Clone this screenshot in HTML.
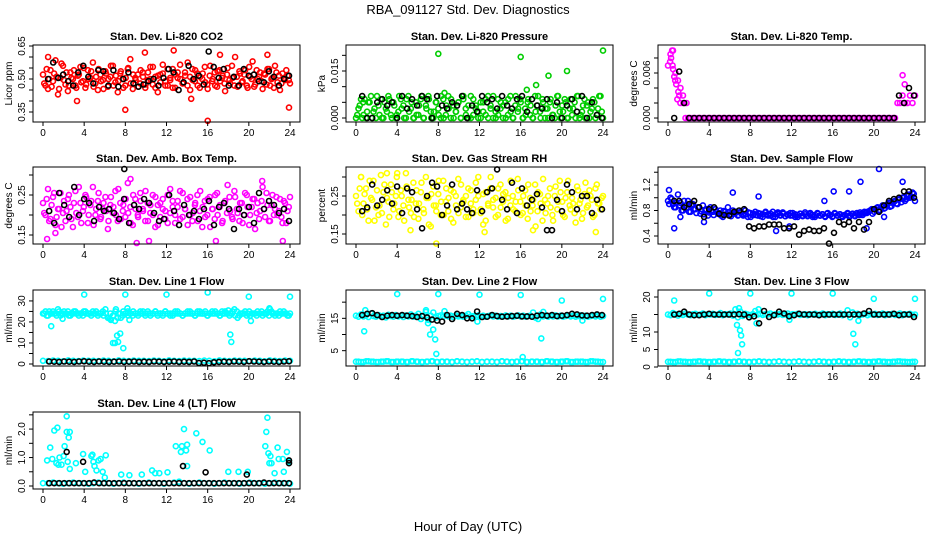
<!DOCTYPE html>
<html><head><meta charset="utf-8">
<style>
html,body{margin:0;padding:0;background:#fff;}
svg{display:block;font-family:"Liberation Sans",sans-serif;}
</style></head>
<body>
<svg id="chart" width="936" height="540" viewBox="0 0 936 540" xmlns="http://www.w3.org/2000/svg">
<rect width="936" height="540" fill="#fff"/>
<text x="468" y="14" text-anchor="middle" font-size="13">RBA_091127  Std. Dev. Diagnostics</text>
<text x="468" y="531" text-anchor="middle" font-size="13">Hour of Day (UTC)</text>
</svg>
<script>
// ---------- data ----------
const hourTicks = [0,4,8,12,16,20,24];

const co2Main = [520,470,455,540,490,585,430,505,560,475,445,530,500,470,515,555,490,460,540,505,575,480,450,520,495,535,465,510,560,485,440,525,500,470,545,590,455,505,520,480,530,460,495,555,475,510,440,520,565,490,470,505,545,460,530,500,480,515,575,450,495,540,470,510,525,485,455,560,500,470,535,490,515,445,550,480,505,600,465,525,490,540,460,510,580,475,500,530,455,520,545,470,505,560,485,450,525,495,515,480];
const co2Main2 = [480,545,500,465,525,510,455,570,495,530,470,505,540,460,520,485,550,475,500,535,465,510,545,490,455,525,500,560,470,515,490,535,460,505,550,480,520,495,465,540,510,475,530,500,555,460,515,485,525,470,545,495,460,520,505,565,480,530,470,510,545,490,525,460,500,555,475,515,490,530,465,540,505,480,520,495,560,470,510,535,485,520,470,555,500,465,540,510,490,525,475,545,500,460,530,515,480,505,540,495];
const co2Black = [500,575,505,520,490,470,530,560,510,480,540,535,470,540,465,500,530,480,465,475,490,500,470,505,545,530,450,485,560,500,515,475,625,555,505,545,470,510,470,545,515,520,490,485,535,510,470,500,515];
const co2OutH = [9.9,12.7,17.2,8.0,16.0,23.9,3.3,14.4,0.5,21.8];
const co2OutV = [620,630,610,360,310,370,400,410,600,610];

const presMain = [0,3,6,1,0,5,7,2,0,4,6,0,3,7,1,5,0,2,6,4,0,7,3,0,5,1,6,0,4,7,2,0,5,3,0,6,1,7,0,4,2,5,0,6,3,0,7,1,4,0,5,2,6,0,3,7,0,1,5,4,0,6,2,0,7,3,5,0,1,6,4,0,2,7,0,5,3,0,6,1,4,7,0,2,5,0,6,3,0,7,1,4,0,5,2,6,0,3,7,0];
const presMain2 = [1,4,0,6,2,5,0,3,7,1,0,5,2,6,0,4,1,7,3,0,6,2,5,0,1,4,7,0,3,6,0,2,5,1,7,0,4,3,6,0,2,5,0,7,1,4,0,6,3,2,0,5,1,7,4,0,2,6,3,0,5,1,7,0,4,2,6,0,3,5,1,0,7,4,2,6,0,3,5,1,0,7,2,4,6,0,3,1,5,7,0,2,6,4,0,3,5,1,7,2];
const presBlack = [7,0,0,5,6,4,5,0,7,3,6,4,7,6,0,7,4,3,5,4,7,0,4,2,7,5,6,3,7,4,3,6,7,2,6,4,3,6,0,5,0,4,6,2,7,0,5,1,0];
const presOutH = [8.0,16.0,24.0,18.7,20.5,17.5,16.6,0.7,8.6];
const presOutV = [20.5,19.5,21.5,13.5,15.0,10.5,9.0,5.0,8.0];

const tempMain = [70,85,90,60,50,40,30,0,0,0,0,0,0,0,0,0,0,0,0,0,0,0,0,0,0,0,0,0,0,0,0,0,0,0,0,0,0,0,0,0,0,0,0,0,0,0,0,0,0,0,0,0,0,0,0,0,0,0,0,0,0,0,0,0,0,0,0,0,0,0,0,0,0,0,0,0,0,0,0,0,0,0,0,0,0,0,0,0,0,0,0,0,20,20,30,20,20,30,20,30];
const tempBlack = [0,62,20,0,0,0,0,0,0,0,0,0,0,0,0,0,0,0,0,0,0,0,0,0,0,0,0,0,0,0,0,0,0,0,0,0,0,0,0,0,0,0,0,0,0,30,20,40,30];
const tempOutH = [0.2,0.4,0.5,0.6,0.8,1.0,1.2,1.5,1.8,0.9,0.3,0.45,22.8,23.0,0.7,1.1];
const tempOutV = [75,90,65,55,45,35,20,20,20,25,80,70,57,45,50,30];

const ambMain = [230,200,265,190,245,175,215,255,205,185,240,220,170,260,195,230,210,250,180,225,270,200,235,190,215,245,165,225,205,260,185,230,210,195,280,220,175,240,200,255,215,185,230,205,250,170,225,195,240,210,180,265,220,200,235,190,255,215,175,245,205,230,185,260,220,195,240,170,215,250,200,225,185,235,275,210,190,245,205,230,180,255,220,200,240,165,230,210,270,195,225,185,250,215,200,240,180,230,210,245];
const ambMain2 = [205,240,185,225,255,195,215,170,235,210,250,190,230,205,270,180,220,245,200,235,175,215,255,195,230,210,185,245,220,200,265,190,225,240,205,180,250,215,195,235,210,260,185,225,200,245,175,230,215,190,250,205,235,180,220,260,195,215,240,200,185,225,250,210,170,235,200,245,215,190,255,220,180,230,205,245,195,260,215,185,230,200,250,175,220,240,205,190,235,215,255,185,225,200,245,210,195,235,180,220];
const ambBlack = [210,180,255,225,195,270,200,240,230,185,220,210,215,205,190,240,180,225,215,240,230,205,185,190,250,210,175,225,200,210,190,215,235,175,220,230,215,165,215,200,220,180,255,215,235,225,205,215,185];
const ambOutH = [0.4,9.1,10.3,23.3,8.5,21.3,16.8,1.2,7.9];
const ambOutV = [140,130,135,135,290,285,135,155,315];

const rhMain = [250,210,300,230,270,185,245,290,220,200,305,260,175,235,280,215,250,195,265,225,310,240,205,285,230,190,260,215,300,245,170,275,225,255,200,290,235,210,265,180,250,295,220,240,195,270,230,205,285,250,215,175,260,225,300,240,195,270,220,255,185,245,290,215,235,265,200,250,225,280,210,240,170,260,230,295,205,250,220,185,275,235,260,200,245,290,215,230,180,265,240,205,285,225,250,195,270,230,215,250];
const rhMain2 = [230,270,200,255,215,290,240,185,265,225,205,280,245,195,260,230,300,210,250,185,275,220,240,195,265,230,285,205,245,175,255,225,210,290,235,200,270,245,190,260,225,205,280,235,250,195,265,215,240,300,205,255,185,230,270,220,245,200,280,235,260,190,225,250,210,295,235,205,265,190,245,225,280,210,255,185,240,230,270,200,250,215,290,235,195,260,225,245,205,275,230,190,255,220,265,240,200,280,230,245];
const rhBlack = [210,220,280,225,240,265,230,275,205,270,260,215,165,250,285,275,200,225,280,215,230,215,205,265,210,260,270,320,240,215,285,205,270,225,240,255,220,160,160,240,210,280,260,215,250,250,205,240,215];
const rhOutH = [7.8,12.5,17.2,5.3,0.5,23.3,3.0,4.0];
const rhOutV = [125,155,160,160,300,155,310,310];

const flowMain = [95,100,90,85,105,92,80,88,95,78,90,82,85,75,88,80,72,85,78,82,75,80,70,78,85,74,80,76,72,78,74,80,70,76,73,78,72,75,70,77,74,72,78,70,75,73,77,71,74,72,76,70,73,75,71,74,72,76,70,73,75,72,74,70,76,73,71,75,72,74,70,73,76,72,75,71,74,77,73,76,78,80,75,82,85,80,88,84,90,86,92,95,90,98,100,95,105,100,108,95];
const flowMain2 = [90,98,85,92,88,80,95,84,78,88,82,76,85,79,74,82,77,80,73,78,76,72,79,74,77,71,75,78,73,76,72,74,77,70,75,73,76,71,74,78,72,75,70,74,77,72,75,71,73,76,72,74,70,75,72,77,71,74,73,70,76,72,74,71,75,73,70,76,72,74,71,73,75,70,74,72,76,73,75,78,76,79,82,78,84,81,86,83,88,92,87,94,91,97,93,100,98,104,102,106];
const flowBlack = [95,95,85,90,95,85,70,82,85,75,73,72,78,80,82,55,52,55,55,58,58,58,52,52,55,42,48,50,48,48,52,28,45,62,58,62,52,62,50,62,82,78,88,95,98,100,110,110,100];
const flowOutH = [0.1,6.3,8.8,10.5,11.8,16.1,17.6,18.7,20.5,22.8,0.6,19.3,15.2,3.5,1.2,21.0];
const flowOutV = [112,108,102,48,55,110,110,125,145,125,52,52,95,62,70,70];

const l1Main = [24,25,23,24,25,24,26,23,24,24,25,23,24,25,24,24,23,25,24,24,25,24,23,24,25,26,22,24,23,25,22,24,23,24,25,24,23,24,24,25,24,23,25,24,24,25,23,24,24,25,24,23,24,25,24,24,23,24,25,24,24,23,25,24,24,25,23,24,24,25,24,23,24,25,24,24,25,23,22,24,24,25,24,23,24,24,25,24,23,24,25,26,24,23,24,25,24,24,23,24];
const l1Main2 = [24,23,25,24,24,23,25,24,25,24,23,24,25,24,23,24,25,24,24,23,24,25,24,24,23,24,22,21,23,26,24,22,25,24,23,24,25,24,23,24,25,24,24,23,24,25,24,24,23,25,24,24,23,24,25,24,23,24,24,25,24,23,24,25,24,24,23,24,25,24,24,23,25,24,24,23,24,26,25,23,24,24,23,25,24,24,23,24,25,24,24,23,25,24,24,23,24,25,24,23];
const l1Low = [1.5,1.4,1.6,1.5,1.3,1.7,1.5,1.4,1.6,1.5,1.5,1.4,1.6,1.5,1.3,1.7,1.5,1.4,1.6,1.5,1.5,1.4,1.6,1.5,1.3,1.7,1.5,1.4,1.6,1.5,1.5,1.4,1.6,1.5,1.3,1.7,1.5,1.4,1.6,1.5,1.5,1.4,1.6,1.5,1.3,1.7,1.5,1.4,1.6,1.5];
const l1Black = [1.2,1.1,1.0,1.2,1.1,1.0,1.2,1.3,1.1,1.0,1.2,1.1,1.0,1.1,1.2,1.0,1.1,1.2,1.0,1.1,1.0,1.2,1.1,1.0,1.1,1.2,1.0,1.1,1.0,1.2,0.5,0.6,0.4,0.8,1.0,1.1,1.0,1.2,1.1,1.0,1.3,1.2,1.1,1.0,1.2,1.1,1.0,1.2,1.3];
const l1OutH = [4,8,12,16,20,24,0.8,7.2,7.5,7.0,7.8,6.8,7.3,18.2,18.3,20.2,1.9,22,8.2,6.5,7.0,18,8.4];
const l1OutV = [33,33,33,34,32,32,18,13.5,14.5,10,7.5,10,10.5,14,10.5,20.5,21.5,26.5,26.5,21.5,20.5,25.5,21];

const l2Main = [15.8,15.5,16.2,15.6,15.9,15.4,16.5,15.7,15.5,16.0,15.6,15.8,15.3,16.1,15.7,15.5,16.0,15.6,15.8,15.4,15.9,15.6,16.2,15.5,15.8,16.4,14.8,15.6,17.0,14.5,15.8,16.8,15.2,15.7,15.9,15.5,16.0,15.6,15.8,15.4,15.9,15.6,15.7,15.5,15.8,16.3,15.6,15.7,15.5,15.9,15.6,15.8,15.5,15.7,15.9,15.6,15.8,15.5,15.7,15.6,15.9,15.6,15.8,15.5,15.7,15.9,15.6,15.8,15.5,15.7,15.8,16.8,15.2,14.8,16.2,15.6,15.9,15.5,15.8,15.6,15.9,15.6,15.8,15.5,15.7,15.9,15.6,15.8,15.5,15.7,15.9,15.6,15.8,15.5,15.7,15.9,15.6,15.8,15.5,15.7];
const l2Low = [1.6,1.5,1.7,1.6,1.5,1.6,1.7,1.5,1.6,1.6,1.5,1.7,1.6,1.5,1.6,1.7,1.5,1.6,1.6,1.5,1.7,1.6,1.5,1.6,1.7,1.5,1.6,1.6,1.5,1.7,1.6,1.5,1.6,1.7,1.5,1.6,1.6,1.5,1.7,1.6,1.5,1.6,1.7,1.5,1.6,1.6,1.5,1.7,1.6,1.5];
const l2Black = [16.0,16.4,16.6,16.0,15.4,15.8,16.0,15.8,16.0,15.8,15.7,15.4,15.7,15.3,14.6,14.3,14.0,16.0,14.8,16.4,16.0,15.0,15.0,17.1,15.4,15.5,16.0,15.7,15.5,15.6,15.7,15.8,15.6,15.6,15.5,15.8,16.0,15.8,16.0,15.7,15.8,16.0,16.4,16.2,15.9,15.8,16.0,16.2,16.0];
const l2OutH = [4,8,12,16,20,24,0.8,0.9,7.2,7.5,7.7,7.8,16.2,18,6.8,18.2,11.8,22,7,8.6];
const l2OutV = [22.5,22.5,22.3,22.2,20.5,21,11.0,17.5,10.0,11.5,8.5,4,3,8.8,17.5,17,14,14.3,13.5,17.2];

const l3Main = [15.0,14.8,15.4,15.1,14.7,15.2,14.9,15.3,15.0,14.8,15.1,15.2,14.9,15.0,15.3,14.8,15.1,15.0,15.2,14.9,15.0,15.4,14.8,15.1,15.0,15.3,14.7,16.5,14.2,15.8,14.6,15.2,15.0,14.8,15.1,16.0,15.0,15.2,14.9,15.1,15.0,15.3,14.8,15.1,15.0,15.2,14.9,15.0,15.3,14.8,15.1,15.0,15.2,14.9,15.0,15.1,14.8,15.1,15.0,15.2,14.9,15.0,15.3,14.8,15.1,15.0,15.2,14.9,15.0,15.3,14.8,15.1,16.2,14.2,15.6,15.0,15.2,14.9,15.0,15.3,14.8,15.1,15.0,15.2,14.9,15.0,15.3,14.8,15.1,15.0,15.2,14.9,15.0,15.3,14.8,15.1,15.0,15.2,14.9,15.0];
const l3Low = [1.5,1.4,1.6,1.5,1.4,1.5,1.6,1.5,1.4,1.5,1.6,1.5,1.4,1.5,1.6,1.5,1.4,1.5,1.6,1.5,1.4,1.5,1.6,1.5,1.4,1.5,1.6,1.5,1.4,1.5,1.6,1.5,1.4,1.5,1.6,1.5,1.4,1.5,1.6,1.5,1.4,1.5,1.6,1.5,1.4,1.5,1.6,1.5,1.4,1.5];
const l3Black = [15.0,15.2,15.8,15.0,14.8,14.8,15.0,15.2,15.0,15.0,15.0,15.0,15.0,15.1,15.0,14.2,14.5,12.5,16.0,14.3,14.8,15.8,15.3,14.5,14.8,15.2,15.0,15.0,15.0,14.8,15.0,15.0,15.0,15.0,15.0,15.0,15.0,15.0,15.3,16.0,15.0,15.0,15.0,15.0,15.2,14.8,15.0,15.0,14.3];
const l3OutH = [4,8,12,16,20,24,0.6,6.8,7.2,6.7,7.0,7.1,18.2,18.0,18.5,8.8,8.6,11.8,6.9];
const l3OutV = [21,21,21,21,19.5,19.5,19,4,6.5,12,10.5,9,6.5,9.5,13.2,16.5,12.5,13.5,16.8];

const l4Base = [0.1,0.1,0.12,0.1,0.08,0.1,0.12,0.1,0.1,0.08,0.1,0.12,0.1,0.1,0.08,0.1,0.12,0.1,0.1,0.08,0.1,0.12,0.1,0.1,0.08,0.1,0.12,0.15,0.1,0.08,0.1,0.12,0.1,0.1,0.08,0.1,0.12,0.1,0.1,0.08,0.1,0.12,0.1,0.1,0.08,0.1,0.12,0.1,0.1,0.08];
const l4Black = [0.1,0.1,0.1,0.1,0.1,0.1,0.1,0.1,0.1,0.12,0.1,0.1,0.1,0.1,0.1,0.1,0.1,0.1,0.1,0.1,0.1,0.1,0.1,0.1,0.1,0.1,0.1,0.1,0.1,0.1,0.1,0.1,0.1,0.1,0.1,0.1,0.1,0.1,0.1,0.1,0.1,0.1,0.1,0.12,0.1,0.1,0.1,0.1,0.1];
const l4OutH = [0.4,0.7,0.9,1.1,1.4,1.3,1.5,1.6,1.8,2.0,2.1,2.3,2.3,2.5,2.6,2.4,2.6,3.2,3.9,4.1,4.7,4.8,4.9,5.0,5.2,5.4,5.6,5.8,6.0,6.1,7.6,8.4,9.6,10.6,10.9,11.3,12.1,12.9,13.4,13.5,13.7,13.9,14.0,14.0,14.9,15.5,16.2,18.0,19.0,19.9,21.6,21.7,21.8,21.9,22.0,22.1,22.2,22.5,22.8,22.9,23.3,23.4,23.7,23.9];
const l4OutV = [0.9,1.35,0.95,1.95,2.05,0.8,0.75,1.0,0.75,1.05,1.4,2.45,1.9,1.7,1.9,0.85,0.6,0.8,1.12,0.5,1.05,1.1,0.85,0.7,0.55,0.9,0.95,0.5,0.3,1.08,0.4,0.38,0.4,0.55,0.45,0.45,0.48,1.4,1.2,1.4,2.0,1.25,1.45,0.7,1.85,1.55,1.25,0.5,0.5,0.5,1.4,1.9,2.4,1.15,0.8,1.05,0.8,0.45,1.35,0.95,0.95,0.5,1.2,0.85];
const l4BlackOutH = [2.3,3.9,13.6,15.8,19.8,23.9,23.9];
const l4BlackOutV = [1.2,0.85,0.7,0.48,0.4,0.9,0.8];

// ---------- drawing ----------
const NS = "http://www.w3.org/2000/svg";
const svg = document.getElementById("chart");
const colX0 = [43,356,668];
const rowTop = [45,167,290,412];
const rowBot = [122,244,366,489];
const pxPerHr = 247/24;

function mk(tag, attrs, parent){
  const e = document.createElementNS(NS, tag);
  for (const k in attrs) e.setAttribute(k, attrs[k]);
  (parent||svg).appendChild(e);
  return e;
}

function panel(cfg){
  const x0 = colX0[cfg.col], top = rowTop[cfg.row], bot = rowBot[cfg.row];
  const left = x0 - 10, right = x0 + 257;
  const g = mk("g", {});
  
  
  const xs = h => x0 + h * pxPerHr;
  const ys = v => bot - (v - cfg.lo) / (cfg.hi - cfg.lo) * (bot - top);
  const pts = mk("g", {}, g);
  
  
  function dot(h, v, color){
    const c = mk("circle", {cx: xs(h).toFixed(1), cy: ys(v).toFixed(1), r: 2.5, fill: "none", stroke: color, "stroke-width": 1.6}, pts);
    
    
  }
  cfg.series.forEach(s => {
    if (s.hours) {
      s.values.forEach((v, i) => dot(s.hours[i], v * s.scale, s.color));
    } else {
      const n = s.values.length;
      const t0 = s.start || 0, t1 = s.end == null ? 24 : s.end;
      s.values.forEach((v, i) => dot(t0 + (t1 - t0) * i / (n - 1), v * s.scale, s.color));
    }
  });
  const box = mk("rect", {x: left, y: top, width: right - left, height: bot - top, fill: "none", stroke: "#000", "stroke-width": 1}, g);
  
  
  const t = mk("text", {x: (left + right) / 2, y: top - 5, "text-anchor": "middle", "font-size": 11, "font-weight": "bold"}, g);
  t.textContent = cfg.title;
  
  
  hourTicks.forEach(h => {
    mk("line", {x1: xs(h), x2: xs(h), y1: bot, y2: bot + 4, stroke: "#000"}, g);
    const l = mk("text", {x: xs(h), y: bot + 14, "text-anchor": "middle", "font-size": 10}, g);
    l.textContent = h;
    
    
  });
  cfg.ticks.forEach(v => {
    mk("line", {x1: left, x2: left - 4, y1: ys(v), y2: ys(v), stroke: "#000"}, g);
  });
  cfg.labels.forEach((lab, i) => {
    const y = ys(cfg.labelVals[i]);
    const l = mk("text", {x: left - 8, y: y, "text-anchor": "middle", "font-size": 10, transform: "rotate(-90 " + (left - 8) + " " + y + ")"}, g);
    l.textContent = lab;
    
    
  });
  const ym = (top + bot) / 2, yx = left - 21;
  const yl = mk("text", {x: yx, y: ym, "text-anchor": "middle", "font-size": 10, transform: "rotate(-90 " + yx + " " + ym + ")"}, g);
  yl.textContent = cfg.ylab;
  
  
}

const RED="#ff0000", BLK="#000000", GRN="#00cd00", MAG="#ff00ff", YEL="#ffff00", BLU="#0000ff", CYN="#00ffff";

panel({name:"co2", col:0, row:0, title:"Stan. Dev. Li-820 CO2", ylab:"Licor ppm", lo:0.3045, hi:0.6545,
  ticks:[0.35,0.4,0.45,0.5,0.55,0.6,0.65], labelVals:[0.35,0.5,0.65], labels:["0.35","0.50","0.65"],
  series:[{values:co2Main, color:RED, scale:0.001},{values:co2Main2, color:RED, scale:0.001, start:0.12, end:23.88},{hours:co2OutH, values:co2OutV, color:RED, scale:0.001},{values:co2Black, color:BLK, scale:0.001, start:0.5, end:23.9}]});
panel({name:"pressure", col:1, row:0, title:"Stan. Dev. Li-820 Pressure", ylab:"kPa", lo:-0.00128, hi:0.0233,
  ticks:[0,0.005,0.01,0.015,0.02], labelVals:[0,0.015], labels:["0.000","0.015"],
  series:[{values:presMain, color:GRN, scale:0.001},{values:presMain2, color:GRN, scale:0.001, start:0.12, end:23.88},{hours:presOutH, values:presOutV, color:GRN, scale:0.001},{values:presBlack, color:BLK, scale:0.001, start:0.6, end:23.9}]});
panel({name:"temp", col:2, row:0, title:"Stan. Dev. Li-820 Temp.", ylab:"degrees C", lo:-0.00053, hi:0.00973,
  ticks:[0,0.002,0.004,0.006,0.008], labelVals:[0,0.006], labels:["0.000","0.006"],
  series:[{values:tempMain, color:MAG, scale:0.0001},{hours:tempOutH, values:tempOutV, color:MAG, scale:0.0001},{values:tempBlack, color:BLK, scale:0.0001, start:0.6, end:23.9}]});
panel({name:"amb-box-temp", col:0, row:1, title:"Stan. Dev. Amb. Box Temp.", ylab:"degrees C", lo:0.1275, hi:0.32,
  ticks:[0.15,0.2,0.25,0.3], labelVals:[0.15,0.25], labels:["0.15","0.25"],
  series:[{values:ambMain, color:MAG, scale:0.001},{values:ambMain2, color:MAG, scale:0.001, start:0.12, end:23.88},{hours:ambOutH.slice(0,8), values:ambOutV.slice(0,8), color:MAG, scale:0.001},{values:ambBlack, color:BLK, scale:0.001, start:0.6, end:23.9},{hours:ambOutH.slice(8), values:ambOutV.slice(8), color:BLK, scale:0.001}]});
panel({name:"gas-rh", col:1, row:1, title:"Stan. Dev. Gas Stream RH", ylab:"percent", lo:0.1237, hi:0.3263,
  ticks:[0.15,0.2,0.25,0.3], labelVals:[0.15,0.25], labels:["0.15","0.25"],
  series:[{values:rhMain, color:YEL, scale:0.001},{values:rhMain2, color:YEL, scale:0.001, start:0.12, end:23.88},{hours:rhOutH, values:rhOutV, color:YEL, scale:0.001},{values:rhBlack, color:BLK, scale:0.001, start:0.6, end:23.9}]});
panel({name:"sample-flow", col:2, row:1, title:"Stan. Dev. Sample Flow", ylab:"ml/min", lo:0.2745, hi:1.482,
  ticks:[0.4,0.6,0.8,1.0,1.2,1.4], labelVals:[0.4,0.8,1.2], labels:["0.4","0.8","1.2"],
  series:[{values:flowMain, color:BLU, scale:0.01},{values:flowMain2, color:BLU, scale:0.01, start:0.12, end:23.88},{hours:flowOutH, values:flowOutV, color:BLU, scale:0.01},{values:flowBlack, color:BLK, scale:0.01, start:0.6, end:23.9}]});
panel({name:"line1-flow", col:0, row:2, title:"Stan. Dev. Line 1 Flow", ylab:"ml/min", lo:-0.95, hi:35.2,
  ticks:[0,5,10,15,20,25,30], labelVals:[0,10,20,30], labels:["0","10","20","30"],
  series:[{values:l1Main, color:CYN, scale:1},{values:l1Main2, color:CYN, scale:1, start:0.12, end:23.88},{values:l1Low, color:CYN, scale:1},{hours:l1OutH, values:l1OutV, color:CYN, scale:1},{values:l1Black, color:BLK, scale:1, start:0.6, end:23.9}]});
panel({name:"line2-flow", col:1, row:2, title:"Stan. Dev. Line 2 Flow", ylab:"ml/min", lo:0.26, hi:23.76,
  ticks:[5,10,15,20], labelVals:[5,15], labels:["5","15"],
  series:[{values:l2Main, color:CYN, scale:1},{values:l2Low, color:CYN, scale:1},{values:l2Low, color:CYN, scale:1, start:0.24, end:23.76},{hours:l2OutH, values:l2OutV, color:CYN, scale:1},{values:l2Black, color:BLK, scale:1, start:0.6, end:23.9}]});
panel({name:"line3-flow", col:2, row:2, title:"Stan. Dev. Line 3 Flow", ylab:"ml/min", lo:0.29, hi:22,
  ticks:[0,5,10,15,20], labelVals:[0,5,10,20], labels:["0","5","10","20"],
  series:[{values:l3Main, color:CYN, scale:1},{values:l3Low, color:CYN, scale:1},{values:l3Low, color:CYN, scale:1, start:0.24, end:23.76},{hours:l3OutH, values:l3OutV, color:CYN, scale:1},{values:l3Black, color:BLK, scale:1, start:0.6, end:23.9}]});
panel({name:"line4-flow", col:0, row:3, title:"Stan. Dev. Line 4 (LT) Flow", ylab:"ml/min", lo:-0.105, hi:2.6,
  ticks:[0,0.5,1.0,1.5,2.0,2.5], labelVals:[0,1,2], labels:["0.0","1.0","2.0"],
  series:[{values:l4Base, color:CYN, scale:1},{hours:l4OutH, values:l4OutV, color:CYN, scale:1},{values:l4Black, color:BLK, scale:1, start:0.6, end:23.9},{hours:l4BlackOutH, values:l4BlackOutV, color:BLK, scale:1}]});
</script>
</body></html>
